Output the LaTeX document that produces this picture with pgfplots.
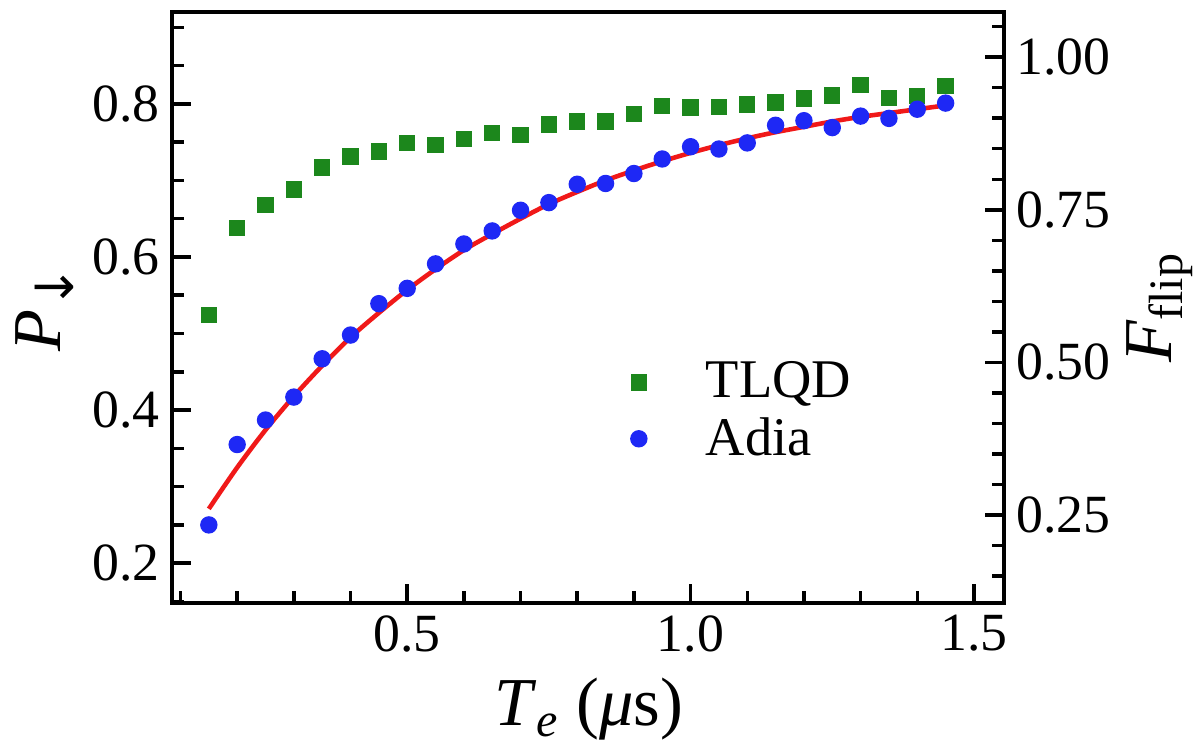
\documentclass[border=0pt]{standalone}
\usepackage{fontspec}
\setmainfont{Liberation Serif}
\newfontfamily\arrfont{DejaVu Sans}
\usepackage{pgfplots}
\pgfplotsset{compat=1.18}

\definecolor{tlqd}{RGB}{28,135,28}
\definecolor{adia}{RGB}{30,40,245}
\definecolor{fitred}{RGB}{240,25,25}

\newcommand\labfont{\fontsize{19.5}{22}\selectfont}

\begin{document}
\begin{tikzpicture}
\pgfplotsset{
  every axis/.append style={
    scale only axis,
    width=83.2mm, height=59.1mm,
    xmin=0.085, xmax=1.553,
    axis line style={line width=1pt,-},
    tick style={line width=1pt,black},
    major tick length=1.9mm, minor tick length=1.2mm,
    tick align=inside,
    /pgf/number format/assume math mode=true,
    tick label style={font=\fontsize{15.3}{18}\selectfont},
  }
}
% left axis: P_down
\begin{axis}[
  name=main,
  ymin=0.148, ymax=0.92,
  xtick pos=left, ytick pos=left,
  xtick={0.5,1.0,1.5}, xticklabels={0.5,1.0,1.5},
  minor xtick={0.1,0.2,0.3,0.4,0.6,0.7,0.8,0.9,1.1,1.2,1.3,1.4},
  ytick={0.2,0.4,0.6,0.8}, yticklabels={0.2,0.4,0.6,0.8},
  minor ytick={0.15,0.25,0.3,0.35,0.45,0.5,0.55,0.65,0.7,0.75,0.85,0.9},
  xlabel={\textit{T}\textsubscript{\textit{e}} (\textit{μ}s)},
  ylabel={\textit{P}\textsubscript{\arrfont\fontsize{15}{16}\selectfont ↓}},
  every axis x label/.style={at={(rel axis cs:0.501,-0.179)},anchor=center,font=\labfont},
  every axis y label/.style={at={(rel axis cs:-0.153,0.5)},anchor=center,rotate=90,font=\labfont},
  legend style={at={(rel axis cs:0.538,0.433)},anchor=north west,draw=none,fill=none,
    font=\fontsize{15.5}{18}\selectfont,column sep=5.2mm},
  legend cell align=left,
]
\addplot[only marks, mark=square*, mark size=0.75mm, color=tlqd] coordinates {
  (0.15,0.524) (0.20,0.638) (0.25,0.668) (0.30,0.688) (0.35,0.717)
  (0.40,0.731) (0.45,0.738) (0.50,0.749) (0.55,0.746) (0.60,0.754)
  (0.65,0.762) (0.70,0.759) (0.75,0.773) (0.80,0.777) (0.85,0.777)
  (0.90,0.787) (0.95,0.797) (1.00,0.795) (1.05,0.796) (1.10,0.799)
  (1.15,0.802) (1.20,0.807) (1.25,0.811) (1.30,0.825) (1.35,0.808)
  (1.40,0.810) (1.45,0.823)
};
\addlegendentry{TLQD}
% fitted curve
\addplot[fitred, line width=1.3pt, smooth, forget plot] coordinates {
  (0.15,0.271) (0.20,0.325) (0.25,0.374) (0.30,0.418) (0.35,0.458)
  (0.40,0.495) (0.45,0.527) (0.50,0.557) (0.55,0.584) (0.60,0.609)
  (0.65,0.630) (0.70,0.650) (0.75,0.669) (0.80,0.685) (0.85,0.700)
  (0.90,0.713) (0.95,0.725) (1.00,0.736) (1.05,0.746) (1.10,0.755)
  (1.15,0.763) (1.20,0.770) (1.25,0.777) (1.30,0.783) (1.35,0.788)
  (1.40,0.793) (1.45,0.798)
};
\addplot[only marks, mark=*, mark size=0.8mm, color=adia] coordinates {
  (0.15,0.250) (0.20,0.355) (0.25,0.387) (0.30,0.417) (0.35,0.467)
  (0.40,0.498) (0.45,0.539) (0.50,0.559) (0.55,0.591) (0.60,0.617)
  (0.65,0.634) (0.70,0.661) (0.75,0.671) (0.80,0.695) (0.85,0.696)
  (0.90,0.709) (0.95,0.728) (1.00,0.744) (1.05,0.741) (1.10,0.749)
  (1.15,0.772) (1.20,0.778) (1.25,0.769) (1.30,0.784) (1.35,0.781)
  (1.40,0.793) (1.45,0.801)
};
\addlegendentry{Adia}
\end{axis}
% right axis: F_flip
\begin{axis}[
  ymin=0.106, ymax=1.074,
  axis x line=none, axis y line*=right,
  ytick={0.25,0.5,0.75,1.0}, yticklabels={0.25,0.50,0.75,1.00},
  minor ytick={0.15,0.2,0.3,0.35,0.4,0.45,0.55,0.6,0.65,0.7,0.8,0.85,0.9,0.95,1.05},
  ylabel={\textit{F}\textsubscript{flip}},
  every axis y label/.style={at={(rel axis cs:1.1875,0.5)},anchor=center,rotate=90,font=\labfont},
]
\end{axis}
\pgfresetboundingbox
\path[use as bounding box] ([xshift=-17.2mm,yshift=-13.9mm]main.south west)
  rectangle ([xshift=102.9mm,yshift=60.3mm]main.south west);
\end{tikzpicture}
\end{document}
